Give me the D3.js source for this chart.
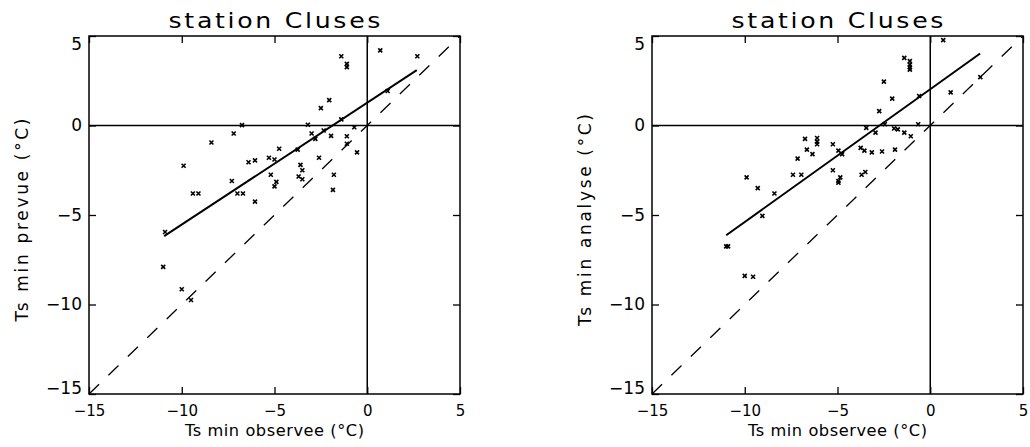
<!DOCTYPE html>
<html>
<head>
<meta charset="utf-8">
<script src="https://cdn.jsdelivr.net/npm/d3@7"></script>
<style>
  body { margin: 0; background: #fff; }
  text { font-family: 'DejaVu Sans', 'Liberation Sans', sans-serif; fill: #000; }
</style>
</head>
<body>
<div id="chart"></div>
<script>
const width = 1030
const height = 447

const TITLE = 'station Cluses'
const X_LABEL = 'Ts min observee (°C)'
const Y_LABELS = ['Ts min prevue (°C)', 'Ts min analyse (°C)']
const TICKS = [-15, -10, -5, 0, 5]
const DOMAIN = [-15, 5]

// left panel: observed vs forecast
const obsLeft = [-11.0, -10.9, -10.0, -9.5, -9.9, -9.4, -9.1, -8.4, -7.3, -7.2, -7.0, -6.7,
  -6.75, -6.4, -6.05, -6.05, -5.3, -5.2, -5.0, -5.0, -4.9, -4.75, -3.75, -3.7, -3.6, -3.5,
  -3.5, -3.2, -3.0, -2.8, -2.6, -2.5, -2.35, -2.05, -1.95, -1.8, -1.85, -1.4, -1.4, -1.1,
  -1.1, -1.1, -1.1, -0.7, -0.55, 0.7, 1.1, 2.7]
const prevLeft = [-7.9, -5.95, -9.15, -9.75, -2.25, -3.8, -3.8, -0.95, -3.1, -0.45, -3.8, -3.8,
  0.02, -2.05, -1.95, -4.25, -1.8, -2.75, -1.9, -3.4, -3.15, -1.3, -1.35, -2.85, -2.2, -2.5,
  -3.0, 0.04, -0.45, -0.75, -1.8, 0.97, -0.28, 1.42, -0.58, -2.75, -3.6, 3.87, 0.34, 3.44,
  3.26, -0.6, -1.02, -0.1, -1.5, 4.2, 1.93, 3.87]
const fitLeftX = [-10.95, 2.67]
const fitLeftY = [-6.18, 3.09]

// right panel: observed vs analysis
const obsRight = [-11.0, -10.9, -10.0, -9.55, -9.05, -9.9, -9.3, -8.4, -7.4, -6.95, -7.15,
  -6.75, -6.65, -6.35, -6.1, -6.1, -6.1, -5.25, -5.25, -4.95, -4.95, -4.85, -4.95, -4.75,
  -3.75, -3.55, -3.7, -3.5, -3.45, -3.15, -2.95, -2.75, -2.6, -2.5, -2.45, -2.05, -1.95,
  -1.9, -1.75, -1.4, -1.4, -1.1, -1.1, -1.1, -1.1, -1.05, -0.65, -0.6, 0.7, 1.1, 2.7]
const anaRight = [-6.75, -6.75, -8.4, -8.45, -5.05, -2.9, -3.5, -3.8, -2.75, -2.75, -1.85,
  -0.75, -1.35, -1.6, -0.7, -0.9, -1.05, -1.05, -2.5, -1.4, -3.1, -2.9, -3.2, -1.6,
  -1.25, -1.4, -2.75, -2.6, -0.13, -1.5, -0.4, 0.8, -1.45, 2.45, 0.07, 1.5, -0.17,
  -1.35, -0.22, 3.78, -0.4, 3.6, 3.4, 3.25, 3.12, -0.6, 0.07, 1.65, 4.77, 1.85, 2.7]
const fitRightX = [-11.0, 2.69]
const fitRightY = [-6.13, 4.02]

const panels = [
  { left: 89, obs: obsLeft, val: prevLeft, fitX: fitLeftX, fitY: fitLeftY, ylabel: Y_LABELS[0], ylen: 203 },
  { left: 652, obs: obsRight, val: anaRight, fitX: fitRightX, fitY: fitRightY, ylabel: Y_LABELS[1], ylen: 212 }
]
const plotW = 371
const plotTop = 36
const plotH = 358

const fmt = d => d < 0 ? '\u2212' + Math.abs(d) : String(d)

const svg = d3.select('#chart').append('svg')
  .attr('width', width).attr('height', height)

panels.forEach(p => {
  const x = d3.scaleLinear().domain(DOMAIN).range([p.left, p.left + plotW])
  const y = d3.scaleLinear().domain(DOMAIN).range([plotTop + plotH, plotTop])
  const g = svg.append('g')

  // inward ticks on the four sides
  g.append('g').attr('transform', `translate(0,${y(-15)})`)
    .call(d3.axisBottom(x).tickValues(TICKS).tickSizeInner(-7).tickSizeOuter(0).tickPadding(11).tickFormat(fmt))
    .selectAll('.tick text').style('font-size', '15px')
  g.append('g').attr('transform', `translate(0,${y(5)})`)
    .call(d3.axisTop(x).tickValues(TICKS).tickSizeInner(-7).tickSizeOuter(0).tickFormat(''))
  const yAxis = g.append('g').attr('transform', `translate(${x(-15)},0)`)
    .call(d3.axisLeft(y).tickValues(TICKS).tickSizeInner(-7).tickSizeOuter(0).tickPadding(7).tickFormat(fmt))
  yAxis.selectAll('.tick text')
    .style('font-size', '17px')
    .attr('y', d => d === 5 ? 8 : d === -15 ? -6 : 0)  // end labels pushed inside the frame
  g.append('g').attr('transform', `translate(${x(5)},0)`)
    .call(d3.axisRight(y).tickValues(TICKS).tickSizeInner(-7).tickSizeOuter(0).tickFormat(''))
  g.selectAll('.domain').remove()
  g.selectAll('.tick line').attr('stroke', '#000').attr('stroke-width', 1.3)

  g.append('rect')
    .attr('x', x(-15)).attr('y', y(5))
    .attr('width', x(5) - x(-15)).attr('height', y(-15) - y(5))
    .attr('fill', 'none').attr('stroke', '#000').attr('stroke-width', 1.5)

  // zero lines
  g.append('line')
    .attr('x1', x(-15)).attr('x2', x(5)).attr('y1', y(0)).attr('y2', y(0))
    .attr('stroke', '#000').attr('stroke-width', 1.5)
  g.append('line')
    .attr('x1', x(0)).attr('x2', x(0)).attr('y1', y(-15)).attr('y2', y(5))
    .attr('stroke', '#000').attr('stroke-width', 1.5)

  // 1:1 line
  g.append('line')
    .attr('x1', x(-15)).attr('y1', y(-15)).attr('x2', x(5)).attr('y2', y(5))
    .attr('stroke', '#000').attr('stroke-width', 1.3).attr('stroke-dasharray', '14,13')

  // regression
  g.append('line')
    .attr('x1', x(p.fitX[0])).attr('y1', y(p.fitY[0]))
    .attr('x2', x(p.fitX[1])).attr('y2', y(p.fitY[1]))
    .attr('stroke', '#000').attr('stroke-width', 2)

  g.selectAll('.pt').data(p.obs).enter().append('path')
    .attr('class', 'pt')
    .attr('transform', (d, i) => `translate(${x(d)},${y(p.val[i])})`)
    .attr('d', 'M-2,-2L2,2M-2,2L2,-2')
    .attr('stroke', '#000').attr('stroke-width', 1.6)

  const cx = (x(-15) + x(5)) / 2
  // wide glyphs: stretch horizontally a bit, rest by spacing
  g.append('text')
    .attr('transform', `translate(${cx},28) scale(1.2,1)`)
    .attr('text-anchor', 'middle')
    .attr('textLength', 212 / 1.2).attr('lengthAdjust', 'spacing')
    .style('font-size', '21px')
    .text(TITLE)

  g.append('text')
    .attr('transform', `translate(${cx},436) scale(1.08,1)`)
    .attr('text-anchor', 'middle')
    .attr('textLength', 179 / 1.08).attr('lengthAdjust', 'spacing')
    .style('font-size', '15px')
    .text(X_LABEL)

  g.append('text')
    .attr('transform', `translate(${p.left - 61},${(y(-15) + y(5)) / 2 + 5}) rotate(-90)`)
    .attr('text-anchor', 'middle')
    .attr('textLength', p.ylen).attr('lengthAdjust', 'spacing')
    .style('font-size', '17px')
    .text(p.ylabel)
})
</script>
</body>
</html>
